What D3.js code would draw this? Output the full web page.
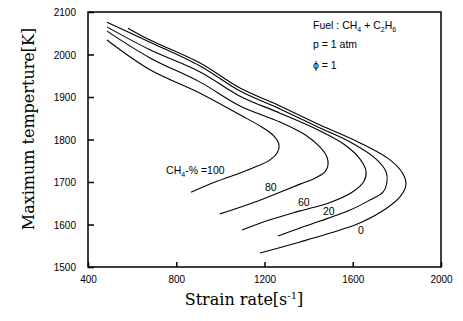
<!DOCTYPE html>
<html>
<head>
<meta charset="utf-8">
<script src="https://cdn.jsdelivr.net/npm/d3@7"></script>
<style>
  body { margin: 0; background: #fff; }
  svg { display: block; }
</style>
</head>
<body>
<svg id="chart" width="463" height="321"></svg>
<script>
// curves, each runs from the upper-left end round the turning point to the lower end
const seriesLabels = ["100", "80", "60", "20", "0"];

const rate100 = [486, 681, 908, 1089, 1189, 1243, 1266, 1257, 1225, 1171, 1089, 976, 867];
const temp100 = [2034, 1964, 1909, 1858, 1829, 1808, 1787, 1768, 1752, 1738, 1721, 1700, 1676];

const rate80 = [486, 681, 908, 1089, 1270, 1384, 1452, 1483, 1488, 1474, 1429, 1361, 1270, 1157, 998];
const temp80 = [2055, 1992, 1935, 1879, 1841, 1811, 1782, 1759, 1740, 1724, 1709, 1695, 1676, 1653, 1625];

const rate60 = [486, 681, 908, 1089, 1270, 1452, 1565, 1633, 1660, 1651, 1597, 1497, 1361, 1225, 1098];
const temp60 = [2065, 2011, 1959, 1902, 1862, 1820, 1787, 1754, 1726, 1702, 1676, 1652, 1632, 1611, 1587];

const rate20 = [486, 681, 908, 1089, 1270, 1452, 1588, 1701, 1751, 1755, 1737, 1669, 1588, 1452, 1361, 1261];
const temp20 = [2076, 2029, 1973, 1914, 1872, 1827, 1794, 1756, 1724, 1700, 1676, 1655, 1634, 1608, 1592, 1573];

const rate0 = [581, 681, 908, 1089, 1270, 1452, 1633, 1769, 1828, 1841, 1814, 1755, 1642, 1542, 1361, 1180];
const temp0 = [2062, 2034, 1980, 1921, 1879, 1834, 1792, 1752, 1719, 1693, 1665, 1639, 1606, 1587, 1559, 1533];

const xTicks = [400, 800, 1200, 1600, 2000];
const yTicks = [1500, 1600, 1700, 1800, 1900, 2000, 2100];

const rates = [rate100, rate80, rate60, rate20, rate0];
const temps = [temp100, temp80, temp60, temp20, temp0];

const margin = { top: 12, right: 22, bottom: 54, left: 88 };
const W = 463, H = 321;
const width = W - margin.left - margin.right;
const height = H - margin.top - margin.bottom;

const svg = d3.select("#chart");
const g = svg.append("g").attr("transform", "translate(" + margin.left + "," + margin.top + ")");

const x = d3.scaleLinear().domain([400, 2000]).range([0, width]);
const y = d3.scaleLinear().domain([1500, 2100]).range([height, 0]);

const tickFont = "Liberation Sans, Arial, sans-serif";

// left axis, ticks pointing inward
const yAxis = g.append("g")
  .call(d3.axisLeft(y).tickValues(yTicks).tickSizeInner(-6).tickSizeOuter(0).tickPadding(12).tickFormat(d3.format("d")));
yAxis.select(".domain").remove();
yAxis.selectAll("text").attr("font-family", tickFont).attr("font-size", 10).attr("fill", "#000").attr("dy", "0.35em");
yAxis.selectAll("line").attr("stroke", "#000").attr("stroke-width", 1.5);

// bottom axis
const xAxis = g.append("g")
  .attr("transform", "translate(0," + height + ")")
  .call(d3.axisBottom(x).tickValues(xTicks).tickSizeInner(-5).tickSizeOuter(0).tickPadding(9).tickFormat(d3.format("d")));
xAxis.select(".domain").remove();
xAxis.selectAll("text").attr("font-family", tickFont).attr("font-size", 10).attr("fill", "#000");
xAxis.selectAll("line").attr("stroke", "#000").attr("stroke-width", 1.5);

// frame
g.append("rect")
  .attr("x", 0).attr("y", 0)
  .attr("width", width).attr("height", height)
  .attr("fill", "none")
  .attr("stroke", "#000")
  .attr("stroke-width", 1.5);

const line = d3.line()
  .x(function(d) { return x(d[0]); })
  .y(function(d) { return y(d[1]); })
  .curve(d3.curveCatmullRom.alpha(0.5));

seriesLabels.forEach(function(lab, i) {
  const pts = rates[i].map(function(r, j) { return [r, temps[i][j]]; });
  g.append("path")
    .datum(pts)
    .attr("fill", "none")
    .attr("stroke", "#000")
    .attr("stroke-width", 1.1)
    .attr("d", line);
});

// curve labels
const labFont = "Liberation Sans, Arial, sans-serif";
const l100 = g.append("text")
  .attr("x", x(754)).attr("y", y(1719))
  .attr("font-family", labFont).attr("font-size", 10.5);
l100.append("tspan").text("CH");
l100.append("tspan").attr("dy", 3).attr("font-size", 7).text("4");
l100.append("tspan").attr("dy", -3).text("-% =100");

[[1202, 1679, "80"], [1352, 1644, "60"], [1465, 1622, "20"], [1624, 1578, "0"]].forEach(function(d) {
  g.append("text")
    .attr("x", x(d[0])).attr("y", y(d[1]))
    .attr("font-family", labFont).attr("font-size", 10.5)
    .text(d[2]);
});

// conditions
const fuel = svg.append("text")
  .attr("x", 313).attr("y", 29)
  .attr("font-family", labFont).attr("font-size", 10.5);
fuel.append("tspan").text("Fuel : CH");
fuel.append("tspan").attr("dy", 3).attr("font-size", 7).text("4");
fuel.append("tspan").attr("dy", -3).text(" + C");
fuel.append("tspan").attr("dy", 3).attr("font-size", 7).text("2");
fuel.append("tspan").attr("dy", -3).text("H");
fuel.append("tspan").attr("dy", 3).attr("font-size", 7).text("6");

svg.append("text")
  .attr("x", 313).attr("y", 48)
  .attr("font-family", labFont).attr("font-size", 10.5)
  .text("p = 1 atm");

svg.append("text")
  .attr("x", 313).attr("y", 69)
  .attr("font-family", labFont).attr("font-size", 10.5)
  .text("\u03D5 = 1");

// axis titles
const serif = "DejaVu Serif, Liberation Serif, serif";
const xt = svg.append("text")
  .attr("x", 244).attr("y", 305)
  .attr("text-anchor", "middle")
  .attr("font-family", serif).attr("font-size", 16);
xt.append("tspan").text("Strain rate[s");
xt.append("tspan").attr("dy", -6).attr("font-size", 10).text("-1");
xt.append("tspan").attr("dy", 6).text("]");

svg.append("text")
  .attr("transform", "translate(34,129) rotate(-90)")
  .attr("text-anchor", "middle")
  .attr("font-family", serif).attr("font-size", 16)
  .text("Maximum temperture[K]");
</script>
</body>
</html>
